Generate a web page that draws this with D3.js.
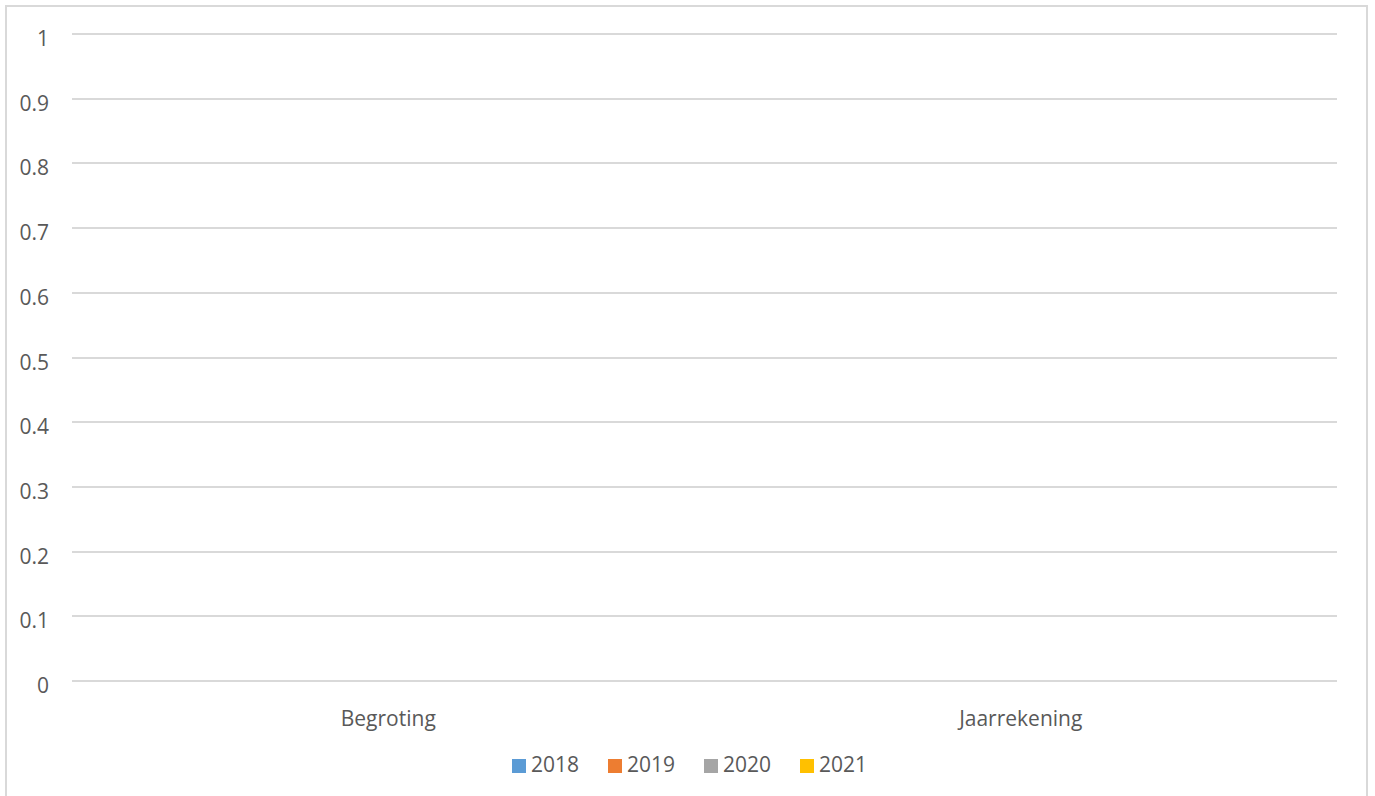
<!DOCTYPE html>
<html>
<head>
<meta charset="utf-8">
<script src="https://cdn.jsdelivr.net/npm/d3@7"></script>
<style>
  html, body { margin: 0; padding: 0; background: #fff; }
  svg { display: block; }
  text { font-family: "Open Sans", "Liberation Sans", sans-serif; fill: #595959; }
</style>
</head>
<body>
<svg id="chart" width="1375" height="796"></svg>
<script>
// Categories, series and tick labels
const categories = ["Begroting", "Jaarrekening"];
const seriesNames = ["2018", "2019", "2020", "2021"];
const seriesColors = ["#5b9bd5", "#ed7d31", "#a5a5a5", "#ffc000"];
const values2018 = [0, 0];
const values2019 = [0, 0];
const values2020 = [0, 0];
const values2021 = [0, 0];
const yTicks = [0, 0.1, 0.2, 0.3, 0.4, 0.5, 0.6, 0.7, 0.8, 0.9, 1];

const seriesValues = [values2018, values2019, values2020, values2021];

const svg = d3.select("#chart");
const W = 1375, H = 796;
const margin = { left: 72, right: 38, top: 34, bottom: 115 };
const FONT = 21;

// Chart frame
svg.append("rect")
  .attr("x", 6).attr("y", 6)
  .attr("width", 1361).attr("height", 800)
  .attr("fill", "#fff")
  .attr("stroke", "#d9d9d9").attr("stroke-width", 2);

const x = d3.scaleBand()
  .domain(categories)
  .range([margin.left, W - margin.right])
  .paddingInner(0).paddingOuter(0);

const x1 = d3.scaleBand()
  .domain(seriesNames)
  .range([0, x.bandwidth()])
  .paddingInner(0.1).paddingOuter(1.1);

const y = d3.scaleLinear()
  .domain([0, 1])
  .range([H - margin.bottom, margin.top]);

// Gridlines
svg.append("g")
  .selectAll("line")
  .data(yTicks)
  .join("line")
  .attr("x1", margin.left).attr("x2", W - margin.right)
  .attr("y1", d => Math.round(y(d))).attr("y2", d => Math.round(y(d)))
  .attr("stroke", "#d9d9d9").attr("stroke-width", 2);

// Y axis labels
const yAxis = d3.axisLeft(y)
  .tickValues(yTicks)
  .tickFormat(d => String(+d.toFixed(1)))
  .tickSize(0).tickPadding(23);
const gy = svg.append("g")
  .attr("transform", `translate(${margin.left},0)`)
  .call(yAxis);
gy.select(".domain").remove();
gy.selectAll("text")
  .attr("font-size", FONT)
  .attr("dy", "0.55em")
  .style("font-family", "'Open Sans', 'Liberation Sans', sans-serif")
  .attr("fill", "#595959");

// Bars
const barGroups = svg.append("g")
  .selectAll("g")
  .data(categories)
  .join("g")
  .attr("transform", d => `translate(${x(d)},0)`);

barGroups.selectAll("rect")
  .data((c, ci) => seriesNames.map((s, si) => ({ s, v: seriesValues[si][ci], color: seriesColors[si] })))
  .join("rect")
  .attr("x", d => x1(d.s))
  .attr("width", x1.bandwidth())
  .attr("y", d => y(d.v))
  .attr("height", d => y(0) - y(d.v))
  .attr("fill", d => d.color);

// X axis category labels
const xAxis = d3.axisBottom(x).tickSize(0).tickPadding(20);
const gx = svg.append("g")
  .attr("transform", `translate(0,${y(0)})`)
  .call(xAxis);
gx.select(".domain").remove();
gx.selectAll("text")
  .attr("font-size", FONT)
  .attr("y", 45).attr("dy", 0)
  .style("font-family", "'Open Sans', 'Liberation Sans', sans-serif")
  .attr("fill", "#595959");

// Legend
const legend = svg.append("g")
  .selectAll("g")
  .data(seriesNames)
  .join("g")
  .attr("transform", (d, i) => `translate(${512 + i * 96},759)`);
legend.append("rect")
  .attr("width", 14).attr("height", 14)
  .attr("fill", (d, i) => seriesColors[i]);
legend.append("text")
  .attr("x", 19).attr("y", 13)
  .attr("font-size", FONT)
  .text(d => d);
</script>
</body>
</html>
